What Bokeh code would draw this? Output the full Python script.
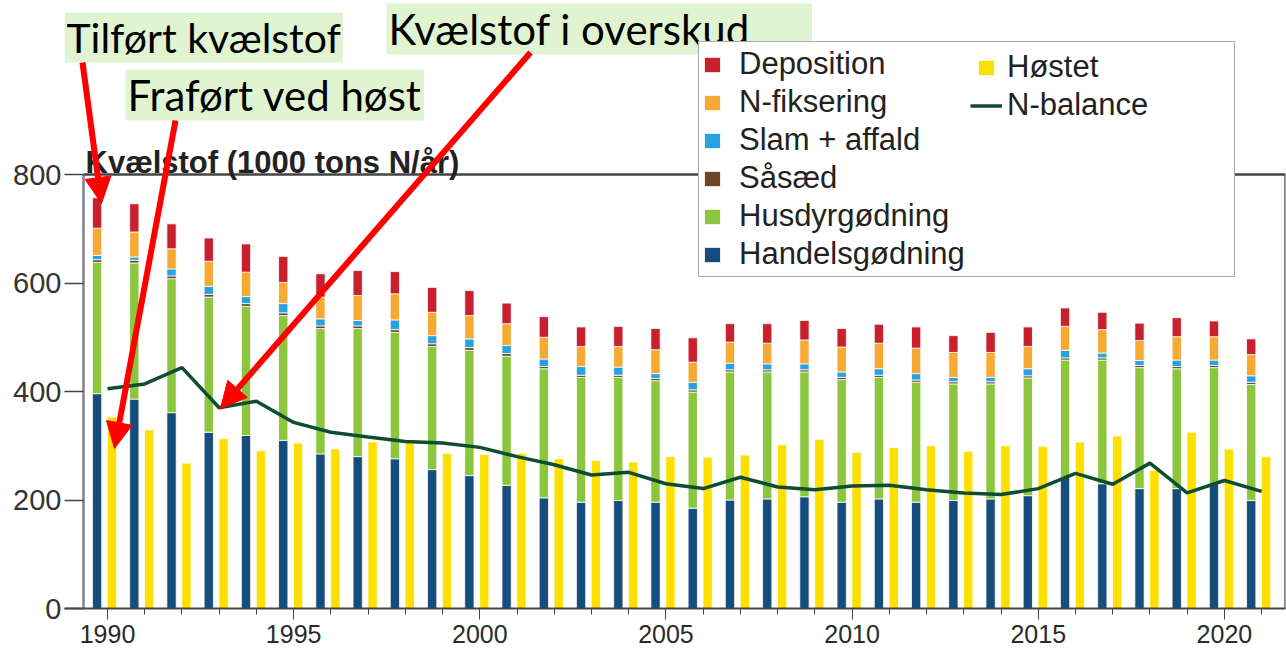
from bokeh.plotting import figure
from bokeh.models import (ColumnDataSource, Range1d, FixedTicker, Legend, LegendItem,
                          Label, Arrow, NormalHead)
from bokeh.embed import file_html
from bokeh.resources import INLINE

# ---------------- data ----------------
years = list(range(1990, 2022))
handels = [396, 386, 361, 325, 319, 310, 285, 280, 276, 256, 245, 227, 204, 196, 199, 196,
           185, 200, 202, 206, 196, 202, 196, 199, 202, 208, 242, 230, 221, 221, 229, 199]
husdyr = [242, 251, 247, 249, 238, 230, 231, 236, 233, 227, 231, 238, 238, 230, 227, 224,
          214, 236, 234, 230, 226, 224, 221, 215, 212, 217, 216, 228, 223, 221, 215, 214]
saased = [5, 5, 5, 5, 5, 5, 5, 5, 5, 5, 5, 5, 4, 4, 4, 4,
          4, 4, 4, 4, 4, 4, 4, 4, 4, 4, 4, 4, 4, 4, 4, 4]
slam = [8, 6, 13, 15, 13, 17, 13, 10, 18, 15, 16, 15, 14, 16, 15, 9,
        14, 12, 11, 11, 10, 12, 12, 8, 8, 13, 14, 9, 9, 12, 10, 12]
nfix = [50, 46, 37, 46, 45, 39, 40, 46, 48, 43, 43, 40, 40, 37, 38, 44,
        37, 39, 38, 44, 46, 47, 47, 46, 46, 41, 44, 43, 37, 43, 43, 39]
depo = [56, 52, 46, 43, 52, 48, 43, 46, 41, 46, 46, 38, 38, 36, 37, 39,
        45, 34, 36, 36, 34, 35, 39, 31, 37, 36, 34, 32, 32, 35, 29, 29]
hostet = [353, 329, 268, 313, 291, 305, 294, 307, 311, 286, 284, 286, 276, 273, 270, 280,
          279, 283, 302, 312, 288, 297, 300, 290, 300, 299, 307, 318, 255, 325, 294, 280]
nbal = [405, 414, 444, 370, 382, 343, 325, 316, 308, 305, 297, 280, 265, 246, 251, 230,
        221, 242, 224, 219, 226, 227, 219, 213, 210, 221, 249, 229, 268, 213, 236, 216]
x_tick_years = [1990, 1995, 2000, 2005, 2010, 2015, 2020]
y_ticks = [0, 200, 400, 600, 800]

stack_keys = ["handels", "husdyr", "saased", "slam", "nfix", "depo"]
stack_names = ["Handelsgødning", "Husdyrgødning", "Såsæd", "Slam + affald", "N-fiksering", "Deposition"]
stack_colors = ["#154d7c", "#8cc63f", "#6e4525", "#27a4df", "#f6a933", "#c8202f"]

# ---------------- geometry (page pixels; canvas starts at page 0,0) ----------------
FRAME_L, FRAME_R, FRAME_B = 64, 1285, 608
PXX = 37.23                          # px per year
PYY = 434 / 800                      # px per 1000 t
X0 = 1990 - (107 - FRAME_L) / PXX
X1 = X0 + (FRAME_R - FRAME_L) / PXX
Y0, Y1 = 0, FRAME_B / PYY
AXIS_X = 1990 - (107 - 83) / PXX     # where the drawn y-axis line sits


def px2x(X):
    return X0 + (X - FRAME_L) / PXX


def py2y(Y):
    return (FRAME_B - Y) / PYY


src = ColumnDataSource(dict(
    xs=[y - 0.28 for y in years], xh=[y + 0.12 for y in years], year=years,
    handels=handels, husdyr=husdyr, saased=saased, slam=slam, nfix=nfix, depo=depo,
    hostet=hostet, nbal=nbal))

p = figure(width=1286, height=654, x_range=Range1d(X0, X1), y_range=Range1d(Y0, Y1),
           output_backend="svg", toolbar_location=None,
           min_border_left=FRAME_L, min_border_right=1286 - FRAME_R, min_border_top=0,
           min_border_bottom=654 - FRAME_B,
           background_fill_color="white", border_fill_color="white", outline_line_color=None)
p.grid.visible = False

rs = p.vbar_stack(stack_keys, x="xs", width=0.25, fill_color=stack_colors,
                  line_color="white", line_width=0.8, source=src)
rh = p.vbar(x="xh", top="hostet", width=0.25, fill_color="#fde000",
            line_color="white", line_width=0.8, source=src)
rl = p.line(x="year", y="nbal", line_color="#0f4d33", line_width=3.5, source=src)

# frame border (left axis line, top and right)
p.segment(x0=[AXIS_X, AXIS_X, X1], y0=[0, y_ticks[-1], y_ticks[-1]],
          x1=[AXIS_X, X1, X1], y1=[y_ticks[-1], y_ticks[-1], 0],
          line_color=["#85818f", "#444444", "#555555"], line_width=2.5)

# axes
xa = p.xaxis[0]
xa.ticker = FixedTicker(ticks=x_tick_years, minor_ticks=years)
xa.major_tick_out = 11
xa.major_tick_in = 0
xa.minor_tick_out = 6
xa.minor_tick_in = 0
xa.major_tick_line_color = "#444444"
xa.minor_tick_line_color = "#444444"
xa.axis_line_color = "#444444"
xa.axis_line_width = 2
xa.major_label_standoff = 5
xa.major_label_text_font = "Liberation Sans"
xa.major_label_text_font_size = "25px"
xa.major_label_text_color = "#2a2a2a"

ya = p.yaxis[0]
ya.ticker = FixedTicker(ticks=y_ticks, minor_ticks=[])
ya.major_tick_out = 0
ya.major_tick_in = 19
ya.minor_tick_out = 0
ya.minor_tick_in = 0
ya.major_tick_line_color = "#444444"
ya.major_tick_line_width = 1.5
ya.axis_line_color = None
ya.major_label_standoff = 3
ya.major_label_text_font = "Liberation Sans"
ya.major_label_text_font_size = "29px"
ya.major_label_text_color = "#333333"

# title text
p.add_layout(Label(x=px2x(85), y=py2y(162), text="Kvælstof (1000 tons N/år)",
                   text_font="Liberation Sans", text_font_style="bold", text_font_size="31px",
                   text_color="#222222", text_align="left", text_baseline="alphabetic"))

# legends
common = dict(orientation="vertical", spacing=0, margin=0, label_height=38, glyph_height=19,
              label_text_font="Liberation Sans", label_text_font_size="31px",
              label_text_color="#222222")
leg1 = Legend(items=[LegendItem(label=stack_names[i], renderers=[rs[i]]) for i in range(5, -1, -1)],
              location=(698 - FRAME_L, FRAME_B - 277), padding=3, glyph_width=20,
              label_standoff=17, label_width=492, border_line_color="#555555",
              border_line_width=1.5, background_fill_color="white", background_fill_alpha=1,
              **common)
leg2 = Legend(items=[LegendItem(label="Høstet", renderers=[rh])],
              location=(976 - FRAME_L, FRAME_B - 86), padding=3, glyph_width=20,
              label_standoff=11, border_line_color=None, background_fill_alpha=0, **common)
leg3 = Legend(items=[LegendItem(label="N-balance", renderers=[rl])],
              location=(970 - FRAME_L, FRAME_B - 124), padding=3, glyph_width=32,
              label_standoff=5, border_line_color=None, background_fill_alpha=0, **common)
p.add_layout(leg1)
p.add_layout(leg2)
p.add_layout(leg3)


# green annotation boxes
def box_label(text, left, top, pad_right, size):
    return Label(x=px2x(left), y=py2y(top), text=text, text_align="left", text_baseline="top",
                 text_font="Lato", text_font_size=size, text_color="black",
                 background_fill_color="#e1f4d1",
                 padding=dict(left=2, right=pad_right, top=0, bottom=1))


p.add_layout(box_label("Tilført kvælstof", 64, 12, 2, "41px"))
p.add_layout(box_label("Fraført ved høst", 125, 69, 2, "42px"))
p.add_layout(box_label("Kvælstof i overskud", 386, 3, 62, "42px"))

# red arrows
for (xs_, ys_, xe_, ye_) in [(82, 62, 101, 203), (175, 120, 114, 448), (530, 52, 220, 408)]:
    p.add_layout(Arrow(end=NormalHead(size=26, fill_color="red", line_color="red", line_width=1),
                       x_start=px2x(xs_), y_start=py2y(ys_), x_end=px2x(xe_), y_end=py2y(ye_),
                       line_color="red", line_width=6))

open("out.html", "w").write(file_html(p, INLINE))
